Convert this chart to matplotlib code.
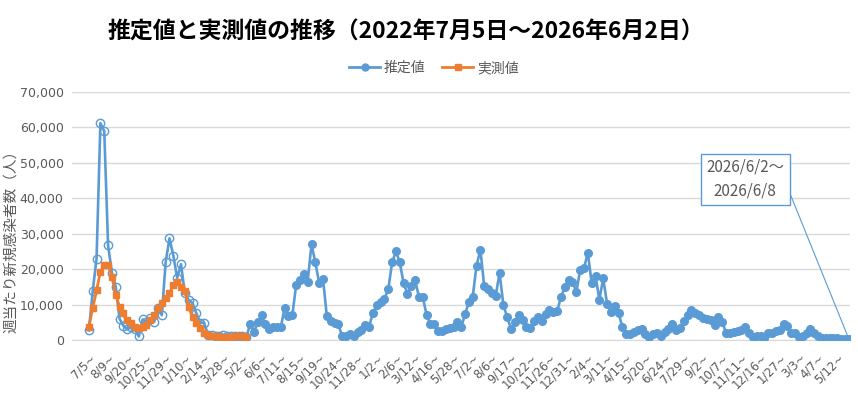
import numpy as np
import matplotlib.pyplot as plt

plt.rcParams['font.family'] = ['Noto Sans CJK JP', 'DejaVu Sans']

# weekly values (people)
estimated = [2700, 13800, 23000, 61200, 59000, 26700, 19000, 15000, 6000, 4000,
             3000, 3700, 3000, 1000, 5800, 5200, 6100, 5100, 9000, 7000,
             22000, 28700, 23800, 17500, 21400, 13200, 11300, 10400, 7500, 4900,
             4900, 1500, 1300, 1200, 1200, 1300, 1100, 1000, 1200, 1100,
             1000, 800, 4400, 2200, 5000, 7000, 4400, 3100, 3600, 3800,
             3600, 9100, 6700, 7000, 15500, 17000, 18700, 16500, 27000, 21900,
             16000, 17200, 6700, 5500, 4800, 4400, 1000, 1200, 1700, 1200,
             2200, 2700, 4100, 3800, 7600, 9800, 10800, 11700, 14300, 21900,
             25000, 21900, 16000, 13100, 15200, 16800, 12200, 12000, 7000, 4400,
             4600, 2500, 2500, 3100, 3400, 3800, 5000, 3600, 7200, 10800,
             12200, 21000, 25500, 15200, 14300, 13300, 12500, 19000, 9800, 6500,
             3100, 5000, 7000, 5700, 3600, 3400, 5500, 6500, 5300, 7400,
             8400, 7900, 8100, 12200, 14900, 17000, 16500, 13600, 19800, 20300,
             24600, 16000, 18100, 11400, 17400, 10300, 7900, 9500, 7600, 3600,
             1700, 1800, 2300, 2900, 3100, 1700, 800, 1700, 1900, 1200,
             2200, 3200, 4600, 2700, 3400, 5500, 7000, 8600, 7500, 7000,
             6300, 6000, 5700, 4100, 6600, 5200, 2000, 2000, 2300, 2600,
             2800, 3700, 1900, 900, 1100, 1000, 500, 1900, 2000, 2400,
             2800, 4400, 3900, 2000, 1900, 900, 1200, 1900, 3200, 1900,
             1100, 700, 600, 500, 500, 500, 400, 300, 300]

measured = [3800, 9000, 14000, 19300, 21200, 21200, 17900, 12700, 9400, 7500,
            5700, 4700, 3600, 3300, 3600, 4200, 5700, 7100, 9000, 10400,
            11800, 13200, 15600, 16500, 15100, 13700, 9400, 6400, 4700, 3300,
            1900, 1400, 1100, 1000, 900, 900, 900, 900, 1000, 1000,
            1100, 900]

tick_labels = ['7/5~', '8/9~', '9/20~', '10/25~', '11/29~', '1/10~', '2/14~', '3/28~',
               '5/2~', '6/6~', '7/11~', '8/15~', '9/19~', '10/24~', '11/28~', '1/2~',
               '2/6~', '3/12~', '4/16~', '5/28~', '7/2~', '8/6~', '9/17~', '10/22~',
               '11/26~', '12/31~', '2/4~', '3/11~', '4/15~', '5/20~', '6/24~', '7/29~',
               '9/2~', '10/7~', '11/11~', '12/16~', '1/27~', '3/3~', '4/7~', '5/12~']

blue = '#5B9BD5'
orange = '#ED7D31'
gray = '#595959'

x = np.arange(len(estimated))
xm = np.arange(len(measured))
n_hollow = len(measured)

fig = plt.figure(figsize=(8.58, 4.05), dpi=100)
ax = fig.add_axes([72 / 858, 1 - 340 / 405, 778 / 858, 248 / 405])

ax.plot(x, estimated, '-', color=blue, lw=1.9, zorder=3)
ax.plot(x[:n_hollow], estimated[:n_hollow], 'o', ls='none', mfc='none', mec=blue,
        ms=6, mew=1, zorder=3)
ax.plot(x[n_hollow:], estimated[n_hollow:], 'o', ls='none', color=blue, ms=5.5, zorder=3)
ax.plot(xm, measured, '-s', color=orange, lw=2, ms=4.5, zorder=4)

# legend handles
l1, = ax.plot([], [], '-o', color=blue, lw=2, ms=5, label='推定値')
l2, = ax.plot([], [], '-s', color=orange, lw=2, ms=4.5, label='実測値')
fig.legend(handles=[l1, l2], loc='center', bbox_to_anchor=(434 / 858, 1 - 68 / 405),
           ncol=2, frameon=False, fontsize=10, handlelength=2.2, handletextpad=0.3,
           columnspacing=1.2, labelcolor=gray)

ax.set_ylim(0, 70000)
ax.set_xlim(-4.4, 198.3)
ax.set_yticks(np.arange(0, 70001, 10000))
ax.set_yticklabels([f'{v:,}' for v in range(0, 70001, 10000)], family='DejaVu Sans',
                   fontsize=9, color=gray)
ax.set_xticks(np.arange(0, 5 * len(tick_labels), 5))
ax.set_xticklabels(tick_labels, rotation=45, ha='right', rotation_mode='anchor',
                   family='DejaVu Sans', fontsize=8.5, color=gray)
ax.tick_params(length=0, pad=6)
ax.tick_params(axis='x', pad=8)
ax.grid(axis='y', color='#D9D9D9', lw=1)
ax.set_axisbelow(True)
for s in ['top', 'right', 'left']:
    ax.spines[s].set_visible(False)
ax.spines['bottom'].set_color('#D9D9D9')

ax.set_ylabel('週当たり新規感染者数（人）', fontsize=10.5, color=gray)
ax.yaxis.set_label_coords(-0.069, 0.41)

fig.text(406 / 858, 1 - 32 / 405, '推定値と実測値の推移（2022年7月5日～2026年6月2日）',
         ha='center', va='center', fontsize=16.5, weight='bold')

ax.annotate('2026/6/2～\n2026/6/8', xy=(x[-1], estimated[-1]), xytext=(171, 45400),
            ha='center', va='center', fontsize=11, color=gray, linespacing=1.5,
            bbox=dict(boxstyle='square,pad=0.35', fc='white', ec=blue, lw=1),
            arrowprops=dict(arrowstyle='-', color=blue, lw=0.8, relpos=(1, 0.5),
                            shrinkA=0, shrinkB=0))

fig.savefig('out.png', dpi=100)
